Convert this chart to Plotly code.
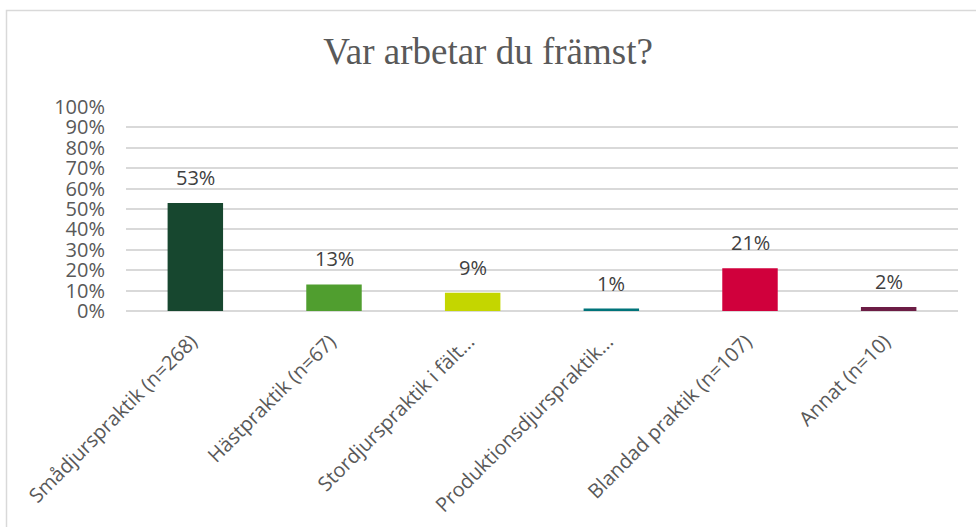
import plotly.graph_objects as go

categories = [
    "Smådjurspraktik (n=268)",
    "Hästpraktik (n=67)",
    "Stordjurspraktik i fält...",
    "Produktionsdjurspraktik...",
    "Blandad praktik (n=107)",
    "Annat (n=10)",
]
values = [0.53, 0.13, 0.09, 0.012, 0.21, 0.02]
labels = ["53%", "13%", "9%", "1%", "21%", "2%"]
colors = ["#17472F", "#509E2F", "#C4D600", "#00747A", "#D0003C", "#6C1D45"]
title = "Var arbetar du främst?"

FONT = "Open Sans"

fig = go.Figure()
fig.add_trace(go.Bar(x=categories, y=values, marker=dict(color=colors, line=dict(width=0)),
                     hoverinfo="skip", showlegend=False))

for c, v, t in zip(categories, values, labels):
    fig.add_annotation(x=c, y=v, text=t, showarrow=False, yanchor="bottom", yshift=10,
                       font=dict(family=FONT, size=20, color="#404040"))

W, H = 976, 527
L, R, T, B = 126, 18, 107, 216
pw, ph = W - L - R, H - T - B

def px_x(x):
    return (x - L) / pw

def px_y(y):
    return (H - B - y) / ph

fig.add_shape(type="rect", xref="paper", yref="paper",
              x0=px_x(6.5), x1=px_x(990), y0=px_y(540), y1=px_y(10.5),
              line=dict(color="#D9D9D9", width=1.5), fillcolor="rgba(0,0,0,0)", layer="below")

fig.update_layout(
    width=W, height=H,
    margin=dict(l=L, r=R, t=T, b=B),
    paper_bgcolor="white", plot_bgcolor="white",
    bargap=0.6,
    title=dict(text=title, x=0.5, xref="container", xanchor="center", y=1 - 51 / H, yanchor="middle",
               yref="container", font=dict(family="Liberation Serif", size=37, color="#595959")),
    xaxis=dict(tickangle=-45, tickfont=dict(family=FONT, size=20, color="#595959"),
               showgrid=False, showline=False, ticks="", fixedrange=True,
               ticklabelshift=-4, ticklabelstandoff=14, automargin=False),
    yaxis=dict(range=[0, 1], dtick=0.1, tickformat=".0%", showgrid=True, gridcolor="#D9D9D9",
               gridwidth=1.5, zeroline=True, zerolinecolor="#D9D9D9", zerolinewidth=1.5,
               tickfont=dict(family=FONT, size=20, color="#595959"), ticks="", ticklen=0,
               ticklabelstandoff=20, fixedrange=True, automargin=False),
    font=dict(family=FONT),
)

fig.write_html("out.html", post_script="document.body.style.margin='0';",
               config={"displayModeBar": False})
